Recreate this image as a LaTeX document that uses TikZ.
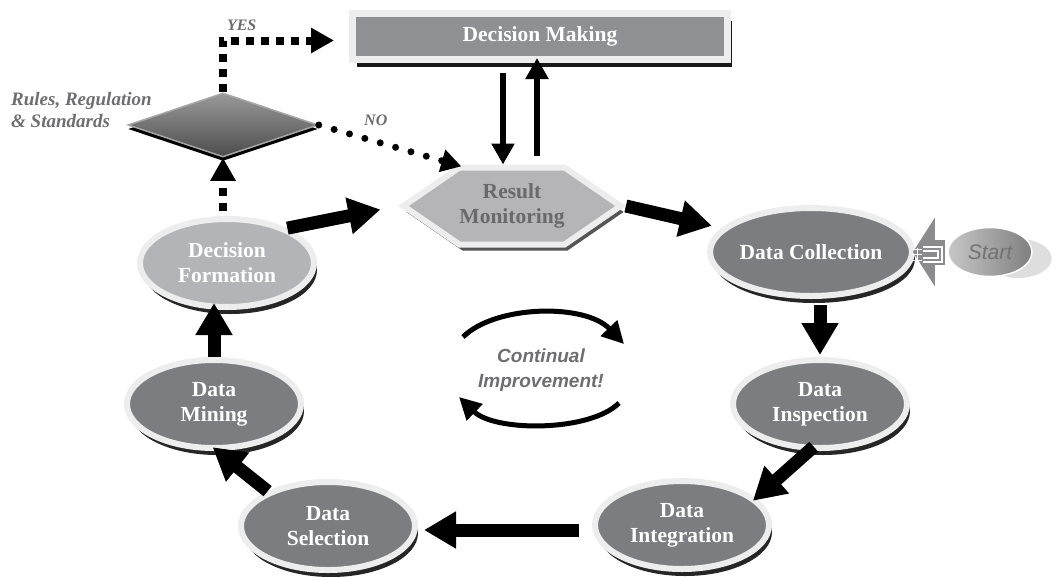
\documentclass[tikz,border=0pt]{standalone}
\usepackage{fontspec}
\setmainfont{Liberation Serif}
\newfontfamily\arialfont{Liberation Sans}
\usepackage{xcolor}
\usetikzlibrary{shapes,arrows.meta,positioning,shadows}
\definecolor{stagegray}{RGB}{124,125,129}
\definecolor{lightstage}{RGB}{179,180,184}
\definecolor{rimwhite}{RGB}{237,237,238}
\definecolor{labelgray}{RGB}{110,110,112}
\definecolor{boxgray}{RGB}{143,144,147}
\definecolor{hexgray}{RGB}{181,181,183}
\definecolor{hextext}{RGB}{105,105,107}
\definecolor{hexshadow}{RGB}{85,85,87}
\definecolor{startarrow}{RGB}{140,140,142}

\begin{document}
\begin{tikzpicture}[x=1pt, y=-1pt,
    stage/.style={ellipse, fill=stagegray, draw=rimwhite, line width=6pt, inner sep=0pt,
        minimum width=174pt, minimum height=88pt, align=center, text=white,
        font=\fontsize{21.5}{25}\selectfont\bfseries,
        drop shadow={shadow xshift=3pt, shadow yshift=-7pt, fill=black!85, opacity=1}},
    flow/.style={line width=13pt, -{Triangle[length=32pt,width=35pt]}},
    linkarrow/.style={line width=6pt, -{Triangle[length=21pt,width=22pt]}},
    squaredots/.style={line width=8pt, dash pattern=on 8pt off 7pt, -{Triangle[length=23pt,width=24pt]}},
    rounddots/.style={line width=7pt, line cap=round, dash pattern=on 0pt off 16pt, -{Triangle[length=20pt,width=22pt]}},
    cyclearc/.style={line width=5pt, -{Triangle[length=22pt,width=22pt]}},
    graylabel/.style={text=labelgray, font=\fontsize{16}{18}\selectfont\bfseries\itshape, inner sep=0pt}]
    \useasboundingbox (0,0) rectangle (1059,576);

    \node[rectangle, fill=boxgray, draw=rimwhite, line width=7pt, minimum width=375pt, minimum height=46pt,
        text=white, font=\fontsize{21.5}{25}\selectfont\bfseries,
        drop shadow={shadow xshift=4pt, shadow yshift=-7pt, fill=black!90, opacity=1}] (dm) at (540,36.5) {Decision Making};
    \node[diamond, minimum width=190pt, minimum height=64pt, inner sep=0pt, draw=black!35, line width=1.5pt,
        top color=black!40, bottom color=black!70,
        drop shadow={shadow xshift=0pt, shadow yshift=-4pt, fill=black, opacity=1}] (rules) at (223,125) {};
    \node[align=left, anchor=west, text=labelgray, inner sep=0pt,
        font=\fontsize{19}{22}\selectfont\bfseries\itshape] (rulesnote) at (11,110) {Rules, Regulation\\\& Standards};
    \node[signal, signal to=east and west, signal pointer angle=69, fill=hexgray, draw=rimwhite, line width=6pt,
        minimum width=212pt, minimum height=77pt, inner sep=0pt, align=center, text=hextext,
        font=\fontsize{21.5}{25}\selectfont\bfseries,
        drop shadow={shadow xshift=3pt, shadow yshift=-6pt, fill=hexshadow, opacity=1}] (rm) at (512,206) {Result\\Monitoring};

    \node[stage] (dc) at (811,252) {Data Collection};
    \node[stage] (di) at (820,404) {Data\\Inspection};
    \node[stage] (dint) at (682,525) {Data\\Integration};
    \node[stage] (dsel) at (328,526) {Data\\Selection};
    \node[stage] (dmin) at (214,404) {Data\\Mining};
    \node[stage, fill=lightstage] (dform) at (227,263) {Decision\\Formation};

    \node[ellipse, minimum width=84pt, minimum height=49pt, inner sep=0pt, draw=white, line width=1.5pt,
        left color=black!22, right color=black!50, text=black!55,
        font=\arialfont\itshape\fontsize{21}{24}\selectfont,
        drop shadow={shadow xshift=35pt, shadow yshift=-8pt, shadow scale=0.8,
            fill=black!13, opacity=1}] (start) at (990,252) {Start};

    \node[align=center, text=labelgray, font=\arialfont\bfseries\itshape\fontsize{19}{24.5}\selectfont] (ci) at (541,370) {Continual\\Improvement!};

    \draw[startarrow, line width=25pt, -{Triangle[length=22pt,width=68pt]}, shorten <=2pt, shorten >=-2pt] (start.west) -- (dc.east);
    \draw[white, line width=1.3pt] (923,247) -- (942,247) -- (942,262) -- (923,262);
    \draw[white, line width=1.3pt] (923,251) -- (938,251) -- (938,258) -- (923,258);
    \draw[white, line width=1pt] (913,249) -- (922,249) (913,254.5) -- (922,254.5) (913,260) -- (922,260) (917,248) -- (917,261);

    \draw[flow, shorten >=10pt] (rm.east) -- (dc.165);
    \draw[flow, shorten <=6pt, shorten >=2pt] (dc.south -| di.north) -- (di.north);
    \draw[flow, shorten <=-6pt, shorten >=-4pt] (di.257) -- (dint.20);
    \draw[flow, shorten <=13pt, shorten >=6pt] ([yshift=-5pt]dint.west) -- ([yshift=-5pt]dint.west -| dsel.east);
    \draw[flow, shorten >=-6pt] (dsel.150) -- (dmin.274);
    \draw[flow, shorten >=-7pt] (dmin.north) -- (dmin.north |- dform.south);
    \draw[flow, shorten >=18pt] (dform.30) -- (rm.west);

    \draw[linkarrow, shorten <=10pt] ([xshift=-37pt]dm.south) -- ([xshift=-37pt]dm.south |- rm.north);
    \draw[linkarrow, shorten <=9pt, shorten >=-5pt] ([xshift=-3pt]dm.south |- rm.north) -- ([xshift=-3pt]dm.south);

    \draw[squaredots, shorten <=5pt] (dform.north -| rules.south) -- (rules.south);
    \draw[squaredots, shorten >=15pt] (rules.north) |- ([yshift=-4pt]dm.west)
        node[graylabel, pos=0.5, anchor=south west, yshift=6pt] {YES};
    \draw[rounddots] (rules.east) -- (rm.142)
        node[graylabel, pos=0.4, anchor=south, yshift=12pt] {NO};

    \draw[cyclearc] (463,337) .. controls (495,305) and (585,303) .. (624,344);
    \draw[cyclearc] (619,403) .. controls (590,432) and (495,432) .. (459,397);
\end{tikzpicture}
\end{document}
